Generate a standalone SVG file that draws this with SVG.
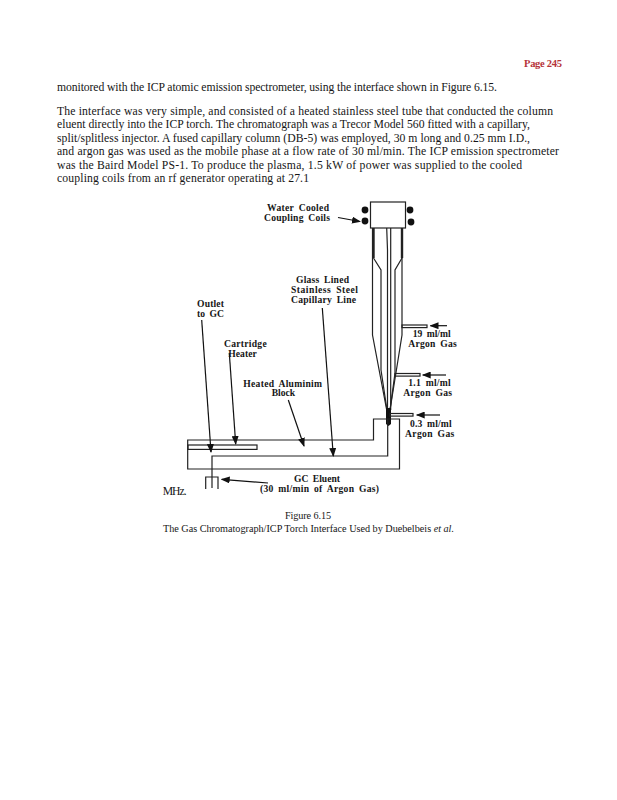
<svg xmlns="http://www.w3.org/2000/svg" width="617" height="800" viewBox="0 0 617 800">
<defs>
<marker id="ah" markerWidth="9" markerHeight="7" refX="8" refY="3.5" orient="auto" markerUnits="userSpaceOnUse"><path d="M0,0L9,3.5L0,7Z" fill="#111"/></marker>
</defs>
<style>
text{font-family:"Liberation Serif","Times New Roman",serif;fill:#161616}
.b{font-size:11.7px}
.l{font-size:9.6px;font-weight:bold;word-spacing:2px}
.c{font-size:10.2px}
.s{fill:none;stroke:#222;stroke-width:1.2}
.t{fill:none;stroke:#222;stroke-width:2.4}
.a{fill:none;stroke:#111;stroke-width:1.2;marker-end:url(#ah)}
</style>
<rect width="617" height="800" fill="#fff"/>
<g id="page-text">
<text x="524" y="67" font-size="10.5" font-weight="bold" style="fill:#b5343a" textLength="38">Page 245</text>
<text class="b" x="57" y="91" textLength="440">monitored with the ICP atomic emission spectrometer, using the interface shown in Figure 6.15.</text>
<text class="b" x="57" y="114.5" textLength="496">The interface was very simple, and consisted of a heated stainless steel tube that conducted the column</text>
<text class="b" x="57" y="128" textLength="473">eluent directly into the ICP torch. The chromatograph was a Trecor Model 560 fitted with a capillary,</text>
<text class="b" x="57" y="141.5" textLength="473">split/splitless injector. A fused capillary column (DB-5) was employed, 30 m long and 0.25 mm I.D.,</text>
<text class="b" x="57" y="155" textLength="502">and argon gas was used as the mobile phase at a flow rate of 30 ml/min. The ICP emission spectrometer</text>
<text class="b" x="57" y="168.5" textLength="465">was the Baird Model PS-1. To produce the plasma, 1.5 kW of power was supplied to the cooled</text>
<text class="b" x="57" y="182" textLength="252">coupling coils from an rf generator operating at 27.1</text>
<text class="b" x="162.7" y="495" textLength="24">MHz.</text>
<text class="c" x="285" y="518.5" textLength="46">Figure 6.15</text>
<text class="c" x="163" y="531.5" textLength="291">The Gas Chromatograph/ICP Torch Interface Used by Duebelbeis <tspan font-style="italic">et al.</tspan></text>
</g>
<g id="torch">
<rect class="s" x="370.5" y="202" width="35" height="26"/>
<circle cx="365" cy="210" r="3.4" fill="#111"/><circle cx="365" cy="221" r="3.4" fill="#111"/>
<circle cx="410" cy="210" r="3.4" fill="#111"/><circle cx="411" cy="222" r="3.4" fill="#111"/>
<path class="t" d="M373.5,228V258M402,228V258"/>
<path class="s" d="M372.5,228V335L386.7,410M402,228V335L390,410"/>
<path class="s" d="M373.5,258L381,270V370L387,410M402,258L395,270V373L390,410"/>
<path class="s" d="M386.7,228L387.5,250V410M390.7,228V410"/>
<path d="M386,408H391V424L388.5,426L386,424Z" fill="#111"/>
</g>
<g id="gas-ports">
<rect class="s" x="402" y="325" width="25" height="2.6"/>
<rect class="s" x="395" y="373.5" width="25" height="2.6"/>
<rect class="s" x="390" y="413.5" width="23" height="2.6"/>
</g>
<g id="block">
<path class="s" d="M187.7,440H373.5V419H399.5V469H187.7Z"/>
<rect class="s" x="188" y="445" width="69" height="4.4"/>
<path class="s" d="M212,477V456H387.7V419"/>
<path class="s" d="M205.7,489V477H218V489M212,477V488"/>
</g>
<g id="connectors">
<path class="a" d="M338,217.5L360,221.5"/>
<path class="a" d="M447,325.7H430.5"/>
<path class="a" d="M446,375H422.7"/>
<path class="a" d="M440,415H416.7"/>
<path class="a" d="M201.7,320L211,452"/>
<path class="a" d="M229.3,353L235.7,444"/>
<path class="a" d="M288.3,400L304,446"/>
<path class="a" d="M322.3,308L333.3,456"/>
<path class="a" d="M268,483L221.7,479.3"/>
</g>
<g id="labels">
<text class="l" x="267" y="211" textLength="62">Water Cooled</text>
<text class="l" x="264" y="221" textLength="66">Coupling Coils</text>
<text class="l" x="296" y="283" textLength="53">Glass Lined</text>
<text class="l" x="291" y="293" textLength="67">Stainless Steel</text>
<text class="l" x="291" y="303" textLength="65">Capillary Line</text>
<text class="l" x="197" y="306.7" textLength="27">Outlet</text>
<text class="l" x="197" y="316.7" textLength="27">to GC</text>
<text class="l" x="224" y="346.7" textLength="42.7">Cartridge</text>
<text class="l" x="228.3" y="356.5" textLength="28.4">Heater</text>
<text class="l" x="243.3" y="386.7" textLength="78.7">Heated Aluminim</text>
<text class="l" x="271.7" y="396.3" textLength="23.3">Block</text>
<text class="l" x="412.7" y="336.5" textLength="38">19 ml/ml</text>
<text class="l" x="408.3" y="346.5" textLength="48.4">Argon Gas</text>
<text class="l" x="408.3" y="386" textLength="42.4">1.1 ml/ml</text>
<text class="l" x="403.3" y="396" textLength="48.7">Argon Gas</text>
<text class="l" x="410" y="427.3" textLength="41.7">0.3 ml/ml</text>
<text class="l" x="405" y="437" textLength="49.3">Argon Gas</text>
<text class="l" x="294" y="482.3" textLength="46">GC Eluent</text>
<text class="l" x="260" y="492.3" textLength="119">(30 ml/min of Argon Gas)</text>
</g>
</svg>
